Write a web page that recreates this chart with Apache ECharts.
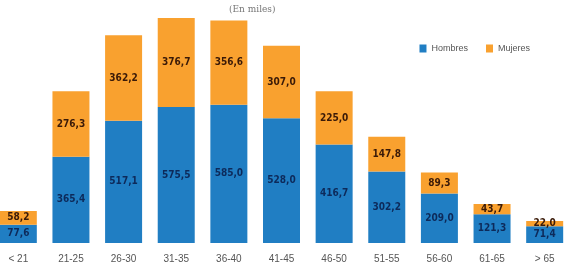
<!DOCTYPE html>
<html><head><meta charset="utf-8">
<script src="https://cdn.jsdelivr.net/npm/echarts@6/dist/echarts.min.js"></script>
<style>html,body{margin:0;padding:0;background:#fff}#c{width:565px;height:266px}</style>
</head><body><div id="c"></div>
<script>
const categories = ['< 21','21-25','26-30','31-35','36-40','41-45','46-50','51-55','56-60','61-65','> 65'];
const hombres = [77.6,365.4,517.1,575.5,585.0,528.0,416.7,302.2,209.0,121.3,71.4];
const mujeres = [58.2,276.3,362.2,376.7,356.6,307.0,225.0,147.8,89.3,43.7,22.0];
const fmt = v => v.value.toFixed(1).replace('.', ',');
const chart = echarts.init(document.getElementById('c'));
chart.setOption({
  animation:false,
  title:{text:'(En miles)',left:224,top:0,textStyle:{fontFamily:'DejaVu Serif',fontSize:9,fontWeight:'normal',color:'#777'}},
  legend:{right:30,top:39,itemWidth:7,itemHeight:8,itemGap:18,icon:'rect',textStyle:{fontSize:9,color:'#555',fontFamily:'Liberation Sans'},data:['Hombres','Mujeres']},
  grid:{left:-8,right:-6,top:18,bottom:23,outerBoundsMode:'none',containLabel:false},
  xAxis:{type:'category',data:categories,axisLine:{show:false},axisTick:{show:false},axisLabel:{color:'#555',fontSize:10,fontFamily:'Liberation Sans',margin:11}},
  yAxis:{type:'value',min:0,max:952.2,show:false,splitLine:{show:false}},
  series:[
    {name:'Hombres',type:'bar',stack:'a',data:hombres,barWidth:37,itemStyle:{color:'#207ec3'},
     label:{show:true,position:'inside',formatter:fmt,color:'#0d2a5a',fontSize:10,fontWeight:'bold',fontFamily:'DejaVu Sans Condensed'}},
    {name:'Mujeres',type:'bar',stack:'a',data:mujeres,barWidth:37,itemStyle:{color:'#f9a12f'},
     label:{show:true,position:'inside',formatter:fmt,color:'#3a1a08',fontSize:10,fontWeight:'bold',fontFamily:'DejaVu Sans Condensed'}}
  ]
});
</script></body></html>
